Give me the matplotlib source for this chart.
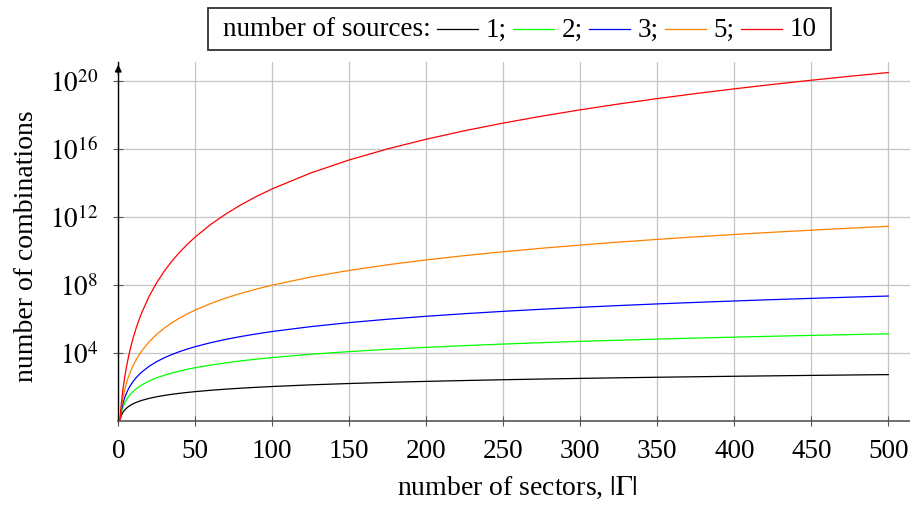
import numpy as np
import matplotlib
matplotlib.use("Agg")
import matplotlib.pyplot as plt
from matplotlib.lines import Line2D
from matplotlib.offsetbox import AnchoredOffsetbox, HPacker, TextArea, DrawingArea

plt.rcParams['font.family'] = ['Liberation Serif', 'DejaVu Serif']
plt.rcParams['mathtext.fontset'] = 'stix'

# number of sectors |Gamma|
sectors = [1, 2, 3, 4, 5, 6, 7, 8, 9, 10, 12, 15, 20, 25, 30, 35, 40, 45, 50, 60, 70, 80, 90, 100,
           125, 150, 175, 200, 225, 250, 275, 300, 325, 350, 375, 400, 425, 450, 475, 500]

# log10(number of combinations), per number of sources
log_comb_1 = [0, 0.301, 0.477, 0.602, 0.699, 0.778, 0.845, 0.903, 0.954, 1.0, 1.079, 1.176, 1.301, 1.398,
              1.477, 1.544, 1.602, 1.653, 1.699, 1.778, 1.845, 1.903, 1.954, 2.0,
              2.097, 2.176, 2.243, 2.301, 2.352, 2.398, 2.439, 2.477, 2.512, 2.544, 2.574, 2.602, 2.628,
              2.653, 2.677, 2.699]
log_comb_2 = [0, 0.477, 0.778, 1.0, 1.176, 1.322, 1.447, 1.556, 1.653, 1.740, 1.892, 2.079, 2.322, 2.512,
              2.667, 2.799, 2.914, 3.015, 3.106, 3.262, 3.395, 3.511, 3.612, 3.703,
              3.896, 4.054, 4.188, 4.303, 4.405, 4.497, 4.579, 4.655, 4.724, 4.788, 4.848, 4.904, 4.957,
              5.006, 5.053, 5.098]
log_comb_3 = [0, 0.602, 1.0, 1.301, 1.544, 1.748, 1.924, 2.079, 2.217, 2.342, 2.561, 2.833, 3.188, 3.466,
              3.695, 3.890, 4.060, 4.210, 4.344, 4.578, 4.776, 4.947, 5.099, 5.235,
              5.523, 5.759, 5.958, 6.131, 6.284, 6.421, 6.545, 6.658, 6.762, 6.858, 6.947, 7.031, 7.110,
              7.184, 7.255, 7.321]
log_comb_5 = [0, 0.778, 1.322, 1.748, 2.100, 2.401, 2.665, 2.899, 3.110, 3.301, 3.640, 4.066, 4.628, 5.075,
              5.444, 5.760, 6.036, 6.280, 6.500, 6.882, 7.207, 7.490, 7.740, 7.964,
              8.440, 8.830, 9.161, 9.448, 9.701, 9.928, 10.133, 10.321, 10.494, 10.654, 10.803, 10.942,
              11.073, 11.196, 11.313, 11.424]
log_comb_10 = [0, 1.041, 1.820, 2.456, 3.000, 3.478, 3.904, 4.289, 4.641, 4.966, 5.547, 6.293, 7.302, 8.118,
               8.803, 9.395, 9.915, 10.379, 10.798, 11.532, 12.159, 12.706, 13.193, 13.630,
               14.562, 15.329, 15.981, 16.547, 17.048, 17.497, 17.904, 18.276, 18.619, 18.936, 19.232,
               19.509, 19.770, 20.016, 20.248, 20.469]

sources = ['1', '2', '3', '5', '10']
series = [log_comb_1, log_comb_2, log_comb_3, log_comb_5, log_comb_10]
colors = ['#000000', '#00ff00', '#0000ff', '#ff8000', '#ff0000']

x_ticks = list(range(0, 501, 50))
y_exps = [4, 8, 12, 16, 20]

FS = 19.5

fig = plt.figure(figsize=(9.10, 5.06), dpi=100)
ax = fig.add_axes([118.3 / 910, 1 - 421.5 / 506, 1 - 118.3 / 910, (421.5 - 63) / 506])

for vals, c in zip(series, colors):
    ax.plot(sectors, np.power(10.0, vals), color=c, lw=0.9, zorder=3)

ax.set_yscale('log')
ax.set_xlim(0, (910 - 118.3) / 1.54)
ax.set_ylim(1, 10 ** ((421.5 - 63) / 17.0))
ax.set_xticks(x_ticks)
ax.set_xticklabels([str(t) for t in x_ticks])
ax.set_yticks([10.0 ** e for e in y_exps])
ax.set_yticklabels([r'$10^{%d}$' % e for e in y_exps])
ax.yaxis.set_minor_locator(matplotlib.ticker.NullLocator())

ax.grid(True, color='#c4c4c4', lw=0.9, zorder=0)
for s in ['top', 'right']:
    ax.spines[s].set_visible(False)
ax.spines['left'].set_color('#000000')
ax.spines['left'].set_linewidth(1.0)
ax.spines['bottom'].set_color('#555555')
ax.spines['bottom'].set_linewidth(1.2)
ax.tick_params(axis='both', direction='inout', length=7, width=0.8, color='#555555',
               labelsize=FS)
ax.tick_params(axis='x', pad=9)
ax.tick_params(axis='y', pad=11)

ax.annotate('', xy=(0, 1.0), xytext=(0, 0.96), xycoords='axes fraction',
            arrowprops=dict(arrowstyle='-|>', color='black', lw=1.0, mutation_scale=10),
            annotation_clip=False)

ax.set_xlabel('number of sectors, $|\\Gamma|$', fontsize=20)
ax.set_ylabel('number of combinations', fontsize=20)
ax.xaxis.set_label_coords(0.5036, -0.149)
ax.yaxis.set_label_coords(-0.100, 0.488)

# legend
items = [DrawingArea(0, 10, 0, 0), TextArea('number of sources:', textprops=dict(fontsize=FS))]
for i, (lab, c) in enumerate(zip(sources, colors)):
    da = DrawingArea(29.5, 12, 0, 0)
    da.add_artist(Line2D([0, 29.5], [6, 6], color=c, lw=0.9))
    items.append(da)
    items.append(TextArea(lab + (';' if i < len(sources) - 1 else ''), textprops=dict(fontsize=FS)))
items.append(DrawingArea(0, 10, 0, 0))
pack = HPacker(children=items, align='center', pad=0, sep=5.0)
box = AnchoredOffsetbox(loc='center', child=pack, pad=0.3, borderpad=0, prop=dict(size=FS),
                        bbox_to_anchor=(519.5 / 910, 1 - 30 / 506), bbox_transform=fig.transFigure,
                        frameon=True)
box.patch.set_boxstyle('square,pad=0')
box.patch.set_edgecolor('#333333')
box.patch.set_linewidth(1.3)
fig.add_artist(box)

fig.savefig('out.png', dpi=100)
